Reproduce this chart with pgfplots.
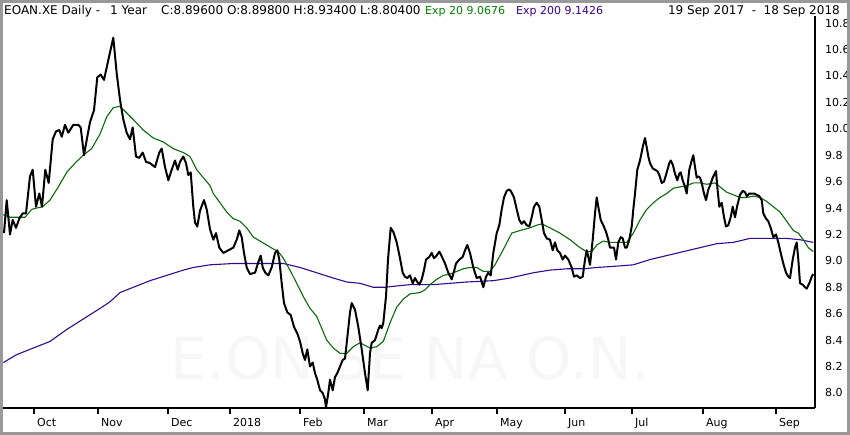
\documentclass[border=0pt]{standalone}
\usepackage{pgfplots}
\pgfplotsset{compat=1.18}
\usepackage{pgfplotstable}
\usepackage{fontspec}
\setmainfont{DejaVu Sans}
\definecolor{emagreen}{RGB}{10,105,10}
\definecolor{emapurple}{RGB}{50,10,140}
\definecolor{hgreen}{RGB}{0,128,0}
\definecolor{hpurple}{RGB}{60,0,140}

\pgfplotstableread{
x y
4 9.21
6.7 9.46
10 9.20
12.7 9.31
16 9.25
19.3 9.32
22.7 9.36
26 9.36
30 9.64
32.7 9.69
36 9.41
39.3 9.51
42 9.41
45.3 9.69
48.7 9.59
52.7 9.92
56 9.98
59.3 9.99
61.7 9.94
65 10.03
68.3 9.97
73.3 10.03
78.3 10.03
80.7 10.01
84 9.80
87.3 9.94
90 10.05
94 10.14
97.3 10.39
100.7 10.41
104 10.37
108.3 10.52
113.3 10.69
116.7 10.42
120 10.22
123.3 10.07
126.7 9.97
130 9.92
132.7 10.01
136 9.79
139.3 9.78
142.7 9.82
146 9.75
150 9.74
155 9.71
159.3 9.82
161.7 9.85
165 9.71
168.3 9.61
171.7 9.69
175 9.76
177.7 9.69
180 9.75
183.3 9.79
186 9.74
188.3 9.65
190.7 9.67
193.3 9.41
195 9.29
197.3 9.26
200 9.38
204 9.46
206.7 9.39
210 9.24
213.3 9.16
216 9.21
219.3 9.10
223.3 9.06
228.3 9.08
233.3 9.10
236.7 9.16
239.3 9.23
241.7 9.18
244 9.06
246.7 8.95
250 8.90
255 8.91
258.3 8.99
260.7 9.04
262.7 8.95
265.3 8.91
268.3 8.89
271.7 8.95
275 9.06
277.3 9.08
279.3 9.01
281.7 8.83
284 8.68
287.3 8.61
290.7 8.59
294 8.50
297.3 8.45
300 8.39
302.7 8.30
305 8.25
307.3 8.33
310 8.20
312.7 8.23
315 8.15
317.3 8.10
320 8.02
322.7 8.00
325 7.95
326 7.89
328.3 8.00
330 8.10
332.7 8.02
335 8.12
337.3 8.15
340 8.20
342.7 8.25
345 8.26
347.3 8.42
350 8.61
351.7 8.68
355 8.63
358.3 8.50
361.7 8.33
365 8.15
367.7 8.02
370 8.30
371.7 8.38
375 8.40
378.3 8.48
380 8.51
381.7 8.49
383.3 8.53
386 8.73
388 9.01
390.7 9.25
393.3 9.22
396.7 9.14
400 9.02
402.7 8.91
405 8.88
407.3 8.87
410 8.89
412.7 8.83
415 8.87
417.3 8.84
419.3 8.82
421.7 8.86
424 8.93
426 9.01
429.3 9.03
431.7 9.06
434 9.02
436.7 9.04
439.3 9.07
442 9.03
445 8.98
448.3 8.91
451.7 8.86
454 8.92
456 8.98
459.3 9.01
462.7 9.03
465 9.08
467.3 9.12
470 9.06
473.3 8.95
476.7 8.87
480 8.88
481.7 8.84
483.3 8.80
486 8.88
488.3 8.91
490.7 8.89
493.3 9.06
496.7 9.21
499.3 9.27
501.7 9.39
504 9.48
506.7 9.53
509.3 9.54
510.7 9.53
514 9.48
516.7 9.39
519.3 9.31
521.7 9.28
524 9.30
526.7 9.27
529.3 9.26
531.7 9.33
534 9.41
536.7 9.44
539.3 9.41
541.7 9.31
544 9.21
546.7 9.17
550 9.16
552.7 9.08
555 9.14
557.3 9.08
560 9.06
562.7 9.01
565 9.04
568.3 9.01
571.7 8.95
574 8.88
576.7 8.89
580 8.87
582.7 8.88
585 9.01
586.7 9.08
588.3 9.03
590 8.97
592.7 9.16
595 9.36
596.7 9.48
598.3 9.41
600.7 9.31
603.3 9.27
606 9.22
608.3 9.16
610 9.10
611.7 9.10
614 9.10
616 9.01
618.3 9.14
620.7 9.18
622.7 9.17
625 9.10
626.7 9.10
629.3 9.16
631.7 9.26
633.3 9.39
635 9.51
637.3 9.69
640 9.76
642.7 9.86
645 9.93
646.7 9.86
648.3 9.79
650 9.74
652.7 9.70
655 9.69
657.3 9.68
659.3 9.65
661.7 9.59
664 9.60
666.7 9.67
669.3 9.74
670.7 9.76
672.7 9.73
675 9.66
677.3 9.61
679.3 9.66
680.7 9.67
682.7 9.61
685 9.56
686.7 9.51
689.3 9.69
691.7 9.76
693.3 9.80
695 9.71
696.7 9.63
698.3 9.64
700 9.63
701.7 9.59
704 9.51
706 9.46
708.3 9.54
710 9.57
712.7 9.63
716 9.68
717.3 9.56
719.3 9.41
721.7 9.44
724 9.33
726 9.26
728.3 9.27
730.7 9.33
732.7 9.41
735 9.33
737.3 9.42
740 9.50
742.7 9.53
745 9.52
746.7 9.49
749.3 9.51
751.7 9.51
754 9.51
756.7 9.50
759.3 9.49
761.7 9.46
763.3 9.36
766 9.32
768.3 9.30
770.7 9.25
773.3 9.18
776 9.20
778.3 9.14
780.7 9.06
783.3 8.98
786 8.91
788.3 8.88
790 8.87
792.7 9.01
795 9.10
796.7 9.14
798.3 9.01
800 8.83
802.7 8.82
805 8.80
806.7 8.79
809.3 8.83
811.7 8.88
813.3 8.90
}\price

\pgfplotstableread{
x y
3.3 9.35
10 9.33
20 9.33
25 9.33
31.7 9.39
36.7 9.40
42.7 9.41
50 9.46
58.3 9.56
66.7 9.67
75 9.74
83.3 9.80
91.7 9.85
100 9.96
106.7 10.09
113.3 10.16
120 10.17
126.7 10.12
133.3 10.07
143.3 9.99
153.3 9.93
163.3 9.90
173.3 9.85
183.3 9.82
190 9.79
196.7 9.69
203.3 9.63
210 9.57
213.3 9.51
220 9.44
226.7 9.37
233.3 9.32
240 9.30
246.7 9.25
253.3 9.18
260 9.15
266.7 9.12
273.3 9.09
278.3 9.07
283.3 9.02
290 8.93
296.7 8.83
303.3 8.73
310 8.64
316.7 8.58
320 8.52
326.7 8.40
333.3 8.34
340 8.30
346.7 8.30
353.3 8.35
360 8.38
365 8.36
370 8.34
376.7 8.35
383.3 8.39
390 8.53
396.7 8.65
403.3 8.71
410 8.75
420 8.76
425 8.78
430 8.82
436.7 8.86
443.3 8.89
450 8.90
456.7 8.92
463.3 8.94
470 8.95
476.7 8.95
483.3 8.92
490 8.92
495 8.97
500 9.04
505 9.11
511.7 9.21
520 9.23
530 9.25
536.7 9.27
541.7 9.28
550 9.25
560 9.21
570 9.16
580 9.10
586.7 9.07
591.7 9.07
596.7 9.12
603.3 9.15
610 9.14
620 9.14
626.7 9.14
633.3 9.21
640 9.31
646.7 9.39
653.3 9.44
660 9.48
666.7 9.51
673.3 9.55
680 9.56
686.7 9.57
693.3 9.59
700 9.59
706.7 9.58
715 9.59
720 9.56
726.7 9.52
733.3 9.50
740 9.48
746.7 9.48
753.3 9.49
760 9.48
766.7 9.45
773.3 9.41
780 9.37
786.7 9.30
793.3 9.23
798.3 9.21
803.3 9.16
808.3 9.10
813.3 9.07
}\emaA

\pgfplotstableread{
x y
3.3 8.23
16.7 8.29
33.3 8.34
50 8.39
66.7 8.48
83.3 8.56
100 8.64
110 8.69
120 8.76
133.3 8.80
150 8.85
166.7 8.89
183.3 8.93
193.3 8.95
210 8.97
233.3 8.98
250 8.98
266.7 8.98
283.3 8.98
300 8.95
316.7 8.91
333.3 8.87
346.7 8.84
360 8.83
373.3 8.80
385 8.80
396.7 8.81
410 8.82
433.3 8.82
466.7 8.84
493.3 8.85
510 8.87
533.3 8.91
550 8.93
566.7 8.94
583.3 8.94
596.7 8.95
616.7 8.96
633.3 8.97
650 9.01
666.7 9.04
683.3 9.07
700 9.10
716.7 9.13
733.3 9.14
750 9.17
766.7 9.17
775 9.17
786.7 9.17
800 9.16
813.3 9.14
}\emaB

\begin{document}
\fontsize{12pt}{14pt}\selectfont
\begin{tikzpicture}[x=1pt,y=1pt]
\useasboundingbox (0,0) rectangle (850,435);
\node[text=black!3, font=\fontsize{58}{58}\selectfont] at (410,77) {E.ON SE NA O.N.};
\begin{axis}[
  at={(3pt,27pt)}, anchor=south west,
  scale only axis, width=812pt, height=392pt,
  xmin=3, xmax=815, ymin=7.886, ymax=10.854,
  axis x line=bottom, axis y line=right,
  axis line style={-, line width=1.6pt, black},
  xtick={34,98,168,230,300,364,432,497,565,632,703,776},
  xticklabels={Oct,Nov,Dec,2018,Feb,Mar,Apr,May,Jun,Jul,Aug,Sep},
  xticklabel style={anchor=north west, xshift=-1pt, font=\fontsize{11}{13}\selectfont},
  x tick style={line width=1.4pt, black},
  major tick length=6pt, tick align=outside,
  ytick={8.0,8.2,...,10.81},
  y tick style={draw=none},
  yticklabel style={anchor=west, inner sep=0pt, xshift=4pt, font=\fontsize{11}{13}\selectfont,
    /pgf/number format/.cd, fixed, fixed zerofill, precision=1, assume math mode=true},
  scaled y ticks=false,
  clip=true,
]
\addplot[emapurple, line width=1.1pt, line join=round] table[x=x,y=y] {\emaB};
\addplot[emagreen, line width=1.1pt, line join=round] table[x=x,y=y] {\emaA};
\addplot[black, line width=2pt, line join=round] table[x=x,y=y] {\price};
\end{axis}
\begin{scope}[every node/.style={anchor=base west, inner sep=0pt}]
\node at (4,420) {EOAN.XE Daily -};
\node at (110,420) {1 Year};
\node at (161,420) {C:8.89600 O:8.89800 H:8.93400 L:8.80400};
\node[font=\fontsize{11}{13}\selectfont, text=hgreen] at (425,420) {Exp 20 9.0676};
\node[font=\fontsize{11}{13}\selectfont, text=hpurple] at (516,420) {Exp 200 9.1426};
\end{scope}
\node[anchor=base east, inner sep=0pt] at (840,420) {19 Sep 2017\ \ -\ \ 18 Sep 2018};
\draw[line width=3pt, black!40] (1.5,1.5) rectangle (848.5,433.5);
\end{tikzpicture}
\end{document}
